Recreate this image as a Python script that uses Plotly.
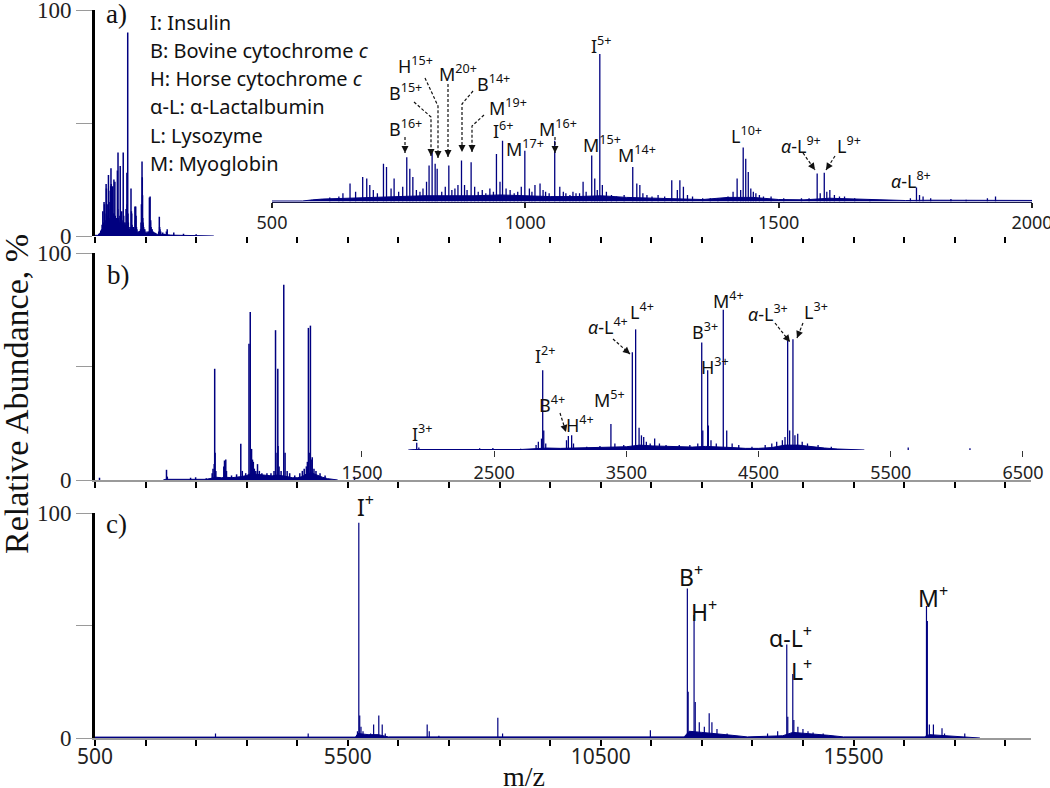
import plotly.graph_objects as go

W, H = 1050, 788
NAVY = "#000080"
SERIF = "Liberation Serif"
SANS = "Noto Sans"

# ---- panel a : high charge states (main + zoomed inset use the same spectrum)
peaks_a_mz = [614, 632, 640, 654, 665, 679, 687, 693, 700, 708, 720, 726, 735, 741, 750, 758,
              766, 772, 778, 785, 792, 798, 805, 810, 816, 822, 826, 835, 842, 849, 855, 861,
              867, 874, 880, 885, 893, 900, 907, 915, 922, 930, 937, 943, 950, 955, 962, 970,
              978, 985, 992, 999, 1008, 1013, 1019, 1029, 1035, 1040, 1047, 1058, 1068, 1075,
              1080, 1088, 1094, 1100, 1107, 1114, 1120, 1131, 1137, 1142, 1147, 1152, 1160,
              1170, 1180, 1195, 1212, 1220, 1226, 1232, 1240, 1250, 1262, 1275, 1289, 1300,
              1305, 1312, 1320, 1330, 1350, 1365, 1380, 1400, 1410, 1418, 1425, 1430, 1435,
              1440, 1445, 1450, 1455, 1462, 1470, 1485, 1510, 1545, 1560, 1576, 1582, 1590,
              1595, 1601, 1610, 1620, 1630, 1650, 1680, 1760, 1772, 1778, 1785, 1800, 1840,
              1870, 1912, 1928, 2058, 2250, 2500]
peaks_a_int = [2.4, 3, 5, 11, 6, 15, 14, 10, 7, 5, 23, 21, 8, 14, 6, 9,
               27, 20, 15, 7, 6, 8, 12, 22, 30, 23, 20, 6, 9, 22, 7, 8,
               10, 25, 10, 7, 24, 9, 6, 7, 5, 8, 6, 29, 12, 37, 8, 7,
               5, 6, 9, 31, 8, 6, 10, 11, 7, 6, 5, 37, 9, 6,
               5, 4, 6, 5, 5, 12, 6, 28, 14, 7, 90, 10, 6,
               4, 3, 4, 21, 11, 10, 5, 4, 3, 4, 3, 13, 7,
               13, 9, 4, 3, 2, 2, 2, 3, 6, 14, 7, 33, 26,
               18, 8, 6, 5, 4, 3, 3, 2, 2, 2, 17, 5, 17.5,
               6, 7, 4, 3, 3, 2, 1.5, 2, 8.5, 4, 3, 2, 1.5,
               1, 2, 3, 1.5, 1, 0.8]
grass_a_mz = [500, 560, 580, 600, 650, 700, 750, 800, 850, 900, 950, 1000, 1050, 1100, 1150,
              1200, 1250, 1300, 1350, 1400, 1450, 1500, 1550, 1600, 1650, 1700, 1750, 1800,
              1900, 2000, 2200, 2500, 2800, 2850]
grass_a_int = [0.3, 0.3, 1.0, 1.5, 2.0, 2.5, 3.0, 3.5, 3.5, 3.5, 4.0, 3.5, 3.0, 3.0, 3.5,
               2.5, 2.0, 1.5, 1.2, 2.5, 2.5, 1.2, 1.0, 2.0, 1.5, 0.8, 0.6, 0.8,
               0.5, 0.4, 0.3, 0.3, 0.2, 0]

# ---- panel b : low charge states
peaks_b_mz = [589, 1914, 1930, 2390, 2490, 2700, 2817, 2834, 2858, 2867, 2875, 2890, 3047,
              3061, 3086, 3100, 3200, 3300, 3383, 3413, 3480, 3545, 3570, 3596, 3614, 3631,
              3651, 3680, 3714, 3750, 3800, 3900, 3980, 4040, 4070, 4078, 4115, 4120, 4140,
              4180, 4233, 4259, 4300, 4350, 4450, 4550, 4600, 4637, 4680, 4700, 4720, 4735,
              4760, 4775, 4796, 4830, 4870, 4950, 5050, 5632, 6099]
peaks_b_int = [1, 4.5, 1.5, 1, 1.2, 0.8, 3, 5, 7, 49, 12, 4, 6,
               8.6, 9, 4, 2, 2.5, 16, 4, 3, 60, 74, 13.7, 9, 8,
               5, 4, 7, 4, 3, 3, 3, 4, 66, 12, 49, 15, 6,
               4, 86, 12, 4, 3, 2, 3, 4, 5, 6, 8, 67, 12,
               68, 9, 10, 5, 4, 3, 2, 1.5, 1]
grass_b_mz = [1850, 1900, 2700, 2800, 2900, 3000, 3100, 3200, 3300, 3400, 3500, 3550, 3600,
              3700, 3800, 3900, 4000, 4100, 4200, 4300, 4400, 4500, 4600, 4700, 4800, 4900,
              5000, 5100, 5200, 5300]
grass_b_int = [0, 0.3, 0.3, 0.8, 1.2, 1.0, 1.2, 1.0, 1.2, 1.5, 2.0, 2.5, 3.0,
               2.5, 2.2, 1.8, 1.8, 2.2, 2.0, 1.5, 1.0, 1.0, 1.5, 3.0, 3.0, 2.0,
               1.2, 0.6, 0.2, 0]

# ---- panel c : singly charged ions
peaks_c_mz = [2883, 4716, 5690, 5717, 5735, 5760, 5800, 5950, 6010, 6112, 6180, 6240, 7069,
              7110, 7300, 8466, 8560, 11483, 12214, 12230, 12347, 12370, 12450, 12550, 12646,
              12700, 12800, 13000, 13800, 14000, 14180, 14200, 14299, 14320, 14400, 14500,
              14600, 14700, 14900, 16943, 16960, 17000, 17080, 17250, 17300, 17700]
peaks_c_int = [2, 2, 3, 95.7, 10, 5, 3, 2, 6, 10, 6, 2, 6,
               3, 1, 9, 2, 3.5, 66.5, 20.6, 54.7, 16, 7, 5, 11,
               7, 4, 2, 2, 3, 41.6, 9.5, 28.4, 8, 5, 4,
               3, 2.5, 2, 58.7, 52, 6, 6, 4.3, 2, 2]
grass_c_mz = [500, 5650, 5700, 5900, 6100, 6300, 12150, 12250, 12500, 12800, 13100, 13400,
              14100, 14300, 14600, 15000, 15300, 16900, 17000, 17400, 17800, 18000]
grass_c_int = [0.4, 0.4, 2, 1.5, 1.5, 0.5, 0.5, 3, 2.5, 2, 1.2, 0.5,
               1, 2.5, 2, 1.2, 0.5, 0.5, 1.5, 1, 0.5, 0]

main_ticks = list(range(500, 19000, 1000))
c_tick_labels = ["500", "5500", "10500", "15500"]
inset_a_ticks = [500, 1000, 1500, 2000]
inset_b_ticks = [1500, 2500, 3500, 4500, 5500, 6500]

legend_lines = ["I: Insulin", "B: Bovine cytochrome <i>c</i>", "H: Horse cytochrome <i>c</i>",
                "α-L: α-Lactalbumin", "L: Lysozyme", "M: Myoglobin"]


def px(x):
    return x / W


def py(y):
    return 1 - y / H


def sticks(mz, inten):
    xs, ys = [], []
    for m, i in zip(mz, inten):
        xs += [m, m, None]
        ys += [0, i, None]
    return xs, ys


fig = go.Figure()


def add_spectrum(mz, inten, gmz, gint, xa, ya, width=1):
    fig.add_trace(go.Scatter(x=gmz, y=gint, xaxis=xa, yaxis=ya, mode="lines",
                             line=dict(color=NAVY, width=1), fill="tozeroy",
                             fillcolor=NAVY, hoverinfo="skip", showlegend=False))
    xs, ys = sticks(mz, inten)
    fig.add_trace(go.Scatter(x=xs, y=ys, xaxis=xa, yaxis=ya, mode="lines",
                             line=dict(color=NAVY, width=width), hoverinfo="skip",
                             showlegend=False))


add_spectrum(peaks_a_mz, peaks_a_int, grass_a_mz, grass_a_int, "x", "y", 1.5)
add_spectrum(peaks_b_mz, peaks_b_int, grass_b_mz, grass_b_int, "x2", "y2", 1.5)
add_spectrum(peaks_c_mz, peaks_c_int, grass_c_mz, grass_c_int, "x3", "y3", 1.2)
add_spectrum(peaks_a_mz, peaks_a_int, grass_a_mz, grass_a_int, "x4", "y4", 1.3)
add_spectrum(peaks_b_mz, peaks_b_int, grass_b_mz, grass_b_int, "x5", "y5", 1.3)

# axis layout (pixel positions measured on the original figure)
x_dom = [px(95), px(1030.5)]
panels = {"": (236, 10), "2": (480, 253), "3": (738, 513)}

layout_axes = {}
for k, (y0, y1) in panels.items():
    layout_axes["xaxis" + k] = dict(
        domain=x_dom, range=[500, 19000], anchor="y" + k, tickvals=main_ticks,
        ticktext=[str(v) if str(v) in c_tick_labels else "" for v in main_ticks],
        showticklabels=(k == "3"), ticks="outside", ticklen=6, tickwidth=2,
        tickcolor="black", showline=(k != ""), linecolor="#9a9a9a", linewidth=1.5,
        showgrid=False, zeroline=False, automargin=False, ticklabelstandoff=-7,
        ticklabeloverflow="allow", tickfont=dict(family=SANS, size=21, color="#222"))
    layout_axes["yaxis" + k] = dict(
        domain=[py(y0), py(y1)], range=[0, 100], anchor="x" + k, tickvals=[0, 50, 100],
        ticktext=["0", "", "100"], ticks="outside", ticklen=16, tickwidth=1,
        tickcolor="#9a9a9a", showline=True, linecolor="black", linewidth=3,
        showgrid=False, zeroline=False, automargin=False, ticklabeloverflow="allow",
        tickfont=dict(family=SERIF, size=23, color="#222"))

layout_axes["xaxis4"] = dict(
    domain=[px(272), px(1032)], range=[500, 2000], anchor="y4", tickvals=inset_a_ticks,
    ticks="outside", ticklen=5, tickwidth=1.5, tickcolor="#222", showline=True,
    linecolor="#1a1a4a", linewidth=1.2, showgrid=False, zeroline=False, automargin=False,
    ticklabeloverflow="allow", tickfont=dict(family=SANS, size=18, color="#222"))
layout_axes["yaxis4"] = dict(domain=[py(201.5), py(37.5)], range=[0, 100], anchor="x4",
                             visible=False, automargin=False)
layout_axes["xaxis5"] = dict(
    domain=[px(330), px(1035)], range=[1258, 6591], anchor="y5", tickvals=inset_b_ticks,
    ticks="outside", ticklen=6, tickwidth=1.2, tickcolor="#333", showline=False,
    showgrid=False, zeroline=False, automargin=False, ticklabeloverflow="allow",
    tickfont=dict(family=SANS, size=18, color="#222"))
layout_axes["yaxis5"] = dict(domain=[py(450), py(287)], range=[0, 100], anchor="x5",
                             visible=False, automargin=False)

annotations = []
shapes = []


def text(x, y, s, size, family=SANS, xanchor="center", angle=0):
    annotations.append(dict(x=px(x), y=py(y), xref="paper", yref="paper", text=s,
                            showarrow=False, xanchor=xanchor, yanchor="middle",
                            textangle=angle, font=dict(family=family, size=size,
                                                       color="#111")))


def arrow(points):
    path = "M " + " L ".join(f"{px(x)},{py(y)}" for x, y in points)
    shapes.append(dict(type="path", path=path, xref="paper", yref="paper",
                       line=dict(color="#111", width=1.2, dash="3px,2px")))
    (xa, ya), (xb, yb) = points[-2], points[-1]
    d = ((xa - xb) ** 2 + (ya - yb) ** 2) ** 0.5
    annotations.append(dict(x=px(xb), y=py(yb), xref="paper", yref="paper", text="",
                            showarrow=True, arrowhead=2, arrowsize=1, arrowwidth=1.4,
                            arrowcolor="#111", ax=(xa - xb) / d * 8, ay=(ya - yb) / d * 8))


# titles and panel letters
text(16, 394, "Relative Abundance, %", 34, SERIF, angle=-90)
text(524, 776, "m/z", 28, SERIF)
text(116, 14, "a)", 27, SERIF)
text(118, 275, "b)", 27, SERIF)
text(116, 524, "c)", 27, SERIF)

for i, line in enumerate(legend_lines):
    text(148, 22 + i * 28.3, line, 20, xanchor="left")

# panel a labels
labels_a = [(601, 45, "I<sup>5+</sup>"), (415, 65, "H<sup>15+</sup>"),
            (405, 92, "B<sup>15+</sup>"), (458, 73, "M<sup>20+</sup>"),
            (493, 83, "B<sup>14+</sup>"), (508, 107, "M<sup>19+</sup>"),
            (405, 128, "B<sup>16+</sup>"), (503, 130, "I<sup>6+</sup>"),
            (525, 148, "M<sup>17+</sup>"), (558, 128, "M<sup>16+</sup>"),
            (602, 144, "M<sup>15+</sup>"), (637, 154, "M<sup>14+</sup>"),
            (746, 135, "L<sup>10+</sup>"), (801, 145, "<i>α</i>-L<sup>9+</sup>"),
            (849, 145, "L<sup>9+</sup>"), (911, 180, "<i>α</i>-L<sup>8+</sup>")]
for x, y, s in labels_a:
    text(x, y, s, 18)
for pts in [[(425, 78), (438, 106), (438, 158)], [(414, 102), (431, 117), (431, 156)],
            [(448, 84), (448, 157)], [(473, 91), (462, 104), (462, 152)],
            [(484, 115), (472, 126), (472, 152)], [(405, 137), (405, 153)],
            [(555, 137), (555, 153)], [(803, 153), (815, 170)], [(835, 156), (826, 170)]]:
    arrow(pts)

# panel b labels
labels_b = [(422, 433, "I<sup>3+</sup>"), (545, 355, "I<sup>2+</sup>"),
            (552, 404, "B<sup>4+</sup>"), (580, 424, "H<sup>4+</sup>"),
            (609, 399, "M<sup>5+</sup>"), (608, 326, "<i>α</i>-L<sup>4+</sup>"),
            (642, 311, "L<sup>4+</sup>"), (705, 331, "B<sup>3+</sup>"),
            (715, 366, "H<sup>3+</sup>"), (728, 300, "M<sup>4+</sup>"),
            (768, 313, "<i>α</i>-L<sup>3+</sup>"), (816, 311, "L<sup>3+</sup>")]
for x, y, s in labels_b:
    text(x, y, s, 18)
for pts in [[(560, 413), (566, 432)], [(613, 339), (630, 354)],
            [(775, 323), (790, 342)], [(803, 323), (797, 338)]]:
    arrow(pts)

# panel c labels
labels_c = [(365, 506, "I<sup>+</sup>"), (691, 576, "B<sup>+</sup>"),
            (704, 611, "H<sup>+</sup>"), (790, 637, "α-L<sup>+</sup>"),
            (801, 670, "L<sup>+</sup>"), (933, 597, "M<sup>+</sup>")]
for x, y, s in labels_c:
    text(x, y, s, 23)

fig.update_layout(width=W, height=H, margin=dict(l=0, r=0, t=0, b=0),
                  paper_bgcolor="white", plot_bgcolor="white", showlegend=False,
                  hovermode=False, annotations=annotations, shapes=shapes, **layout_axes)

# the page's default body margin would push the fixed-size figure off the window
fig.write_html("out.html", config={"displayModeBar": False},
               post_script="document.body.style.margin='0';")
